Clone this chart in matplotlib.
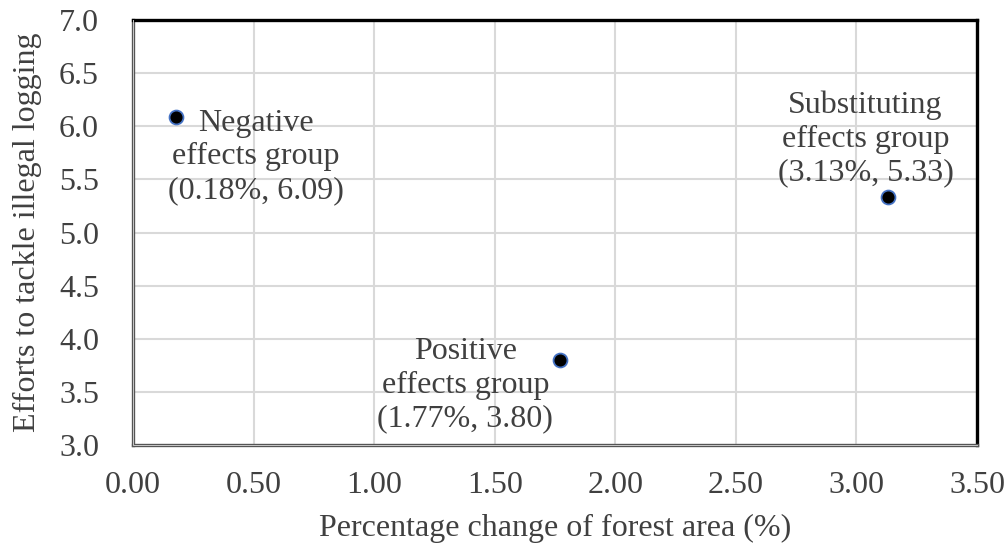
import matplotlib
matplotlib.use("Agg")
import matplotlib.pyplot as plt

# Group positions: forest-area change (%) vs. anti-logging effort score
groups = ["Negative\neffects group", "Positive\neffects group", "Substituting\neffects group"]
forest_change = [0.18, 1.77, 3.13]
effort_score = [6.09, 3.80, 5.33]
label_offsets = [(57, -29), (-68, -18), (-16, 42)]  # points, label block centre vs. marker

x_ticks = [0.0, 0.5, 1.0, 1.5, 2.0, 2.5, 3.0, 3.5]
y_ticks = [3.0, 3.5, 4.0, 4.5, 5.0, 5.5, 6.0, 6.5, 7.0]

plt.rcParams["font.family"] = ["Liberation Serif", "DejaVu Serif"]
text_color = "#404040"
fs = 23

fig = plt.figure(figsize=(10.08, 5.48), dpi=100)
ax = fig.add_axes([133 / 1008, 1 - 445 / 548, (977 - 133) / 1008, (445 - 20) / 548])

ax.set_xlim(0, 3.5)
ax.set_ylim(3.0, 7.0)
ax.set_xticks(x_ticks)
ax.set_yticks(y_ticks)
ax.set_xticklabels([f"{v:.2f}" for v in x_ticks])
ax.set_yticklabels([f"{v:.1f}" for v in y_ticks])
ax.tick_params(length=0, labelsize=fs, labelcolor=text_color)
ax.tick_params(axis="x", pad=19)
ax.tick_params(axis="y", pad=24.5)
ax.grid(True, color="#d9d9d9", linewidth=1.5)
ax.set_axisbelow(True)

for side in ("top", "right"):
    ax.spines[side].set_color("black")
    ax.spines[side].set_linewidth(2.4)
for side in ("left", "bottom"):
    ax.spines[side].set_color("#555555")
    ax.spines[side].set_linewidth(2.4)

# light inner stripe giving the left/bottom frame its double-rule look
ax.plot([0, 0, 1], [1, 0, 0], transform=ax.transAxes, color="#c8c8c8",
        linewidth=0.7, clip_on=False, zorder=3, solid_joinstyle="miter")

ax.plot(forest_change, effort_score, linestyle="none", marker="o", markersize=10,
        markerfacecolor="black", markeredgecolor="#4472C4", markeredgewidth=1.3,
        zorder=5)

for name, x, y, off in zip(groups, forest_change, effort_score, label_offsets):
    ax.annotate(f"{name}\n({x:.2f}%, {y:.2f})", xy=(x, y), xytext=off,
                textcoords="offset points", ha="center", va="center",
                multialignment="center", fontsize=fs, color=text_color,
                linespacing=1.22)

ax.set_xlabel("Percentage change of forest area (%)", fontsize=fs, color=text_color)
ax.set_ylabel("Efforts to tackle illegal logging", fontsize=fs, color=text_color)
ax.xaxis.set_label_coords(0.5, -0.163)
ax.yaxis.set_label_coords(-0.108, 0.5)

fig.savefig("out.png", dpi=100)
